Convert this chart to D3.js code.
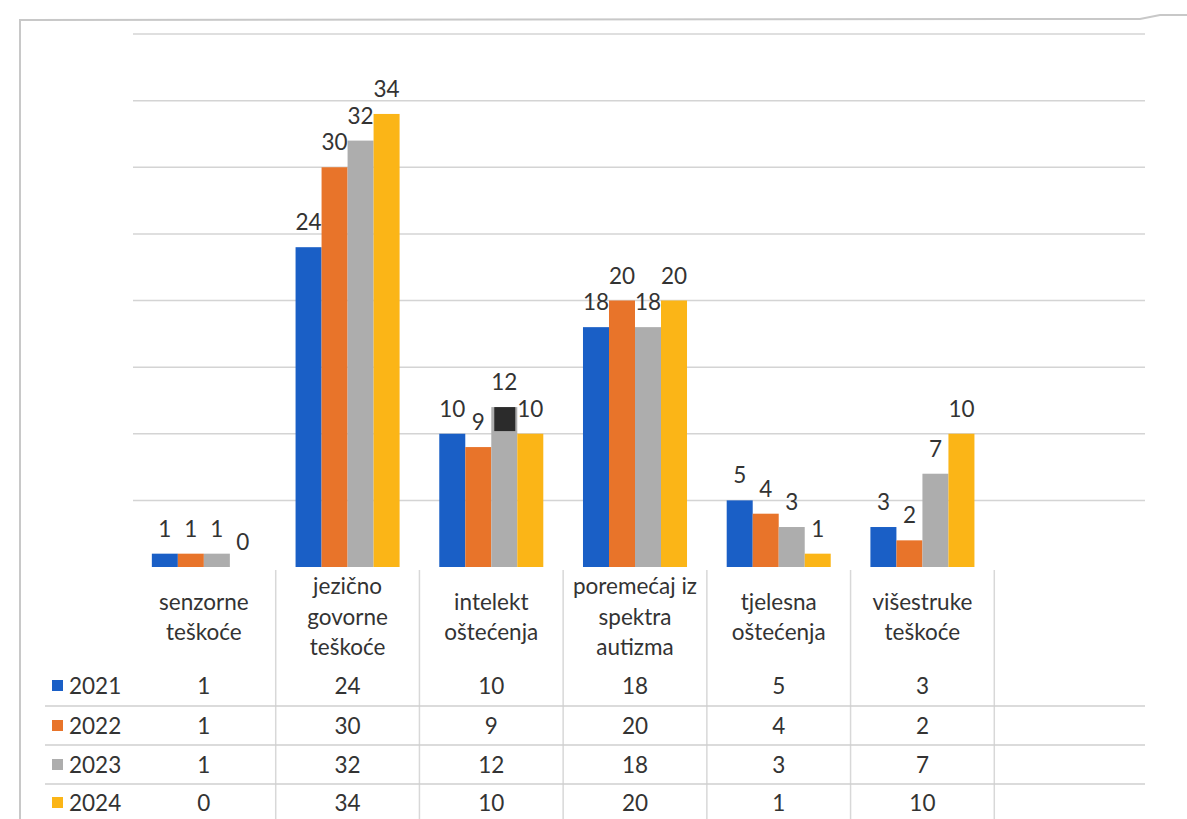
<!DOCTYPE html>
<html><head><meta charset="utf-8">
<script src="https://cdn.jsdelivr.net/npm/d3@7/dist/d3.min.js"></script>
<style>body{margin:0;background:#fff}svg{display:block}</style>
</head><body>
<svg id="c" width="1187" height="819"></svg>
<script>
const categories = [["senzorne","teškoće"],["jezično","govorne","teškoće"],["intelekt","oštećenja"],["poremećaj iz","spektra","autizma"],["tjelesna","oštećenja"],["višestruke","teškoće"]];
const years = ["2021","2022","2023","2024"];
const v2021 = [1,24,10,18,5,3];
const v2022 = [1,30,9,20,4,2];
const v2023 = [1,32,12,18,3,7];
const v2024 = [0,34,10,20,1,10];
const yTicks = [5,10,15,20,25,30,35,40];
const colors = ["#1a5fc6","#e8742a","#adadad","#fbb517"];
const series = [v2021,v2022,v2023,v2024];

const svg = d3.select("#c");
const font = "Lato, 'Open Sans', sans-serif";
const txt = "#333333";
const fs = 22.5;

// frame (scanned page border)
svg.append("path").attr("d","M20,819 L20,20 L1140,19 L1160,15 L1187,15")
  .attr("fill","none").attr("stroke","#c8c8c8").attr("stroke-width",2);

const keys = categories.map((c,i)=>"c"+i).concat(["empty"]);
const x = d3.scaleBand().domain(keys).range([132,1138]).paddingInner(0);
const xi = d3.scaleBand().domain(years).range([0,x.bandwidth()]).paddingInner(0).paddingOuter(0.763);
const y = d3.scaleLinear().domain([0,40]).range([567,34]);

// gridlines
svg.append("g").selectAll("line").data(yTicks).join("line")
  .attr("x1",133).attr("x2",1145).attr("y1",d=>y(d)).attr("y2",d=>y(d))
  .attr("stroke","#d4d4d4").attr("stroke-width",1.5);

// bars
const g = svg.append("g");
series.forEach((vals,si)=>{
  g.selectAll(".b"+si).data(vals).join("rect")
    .attr("x",(d,i)=>x(keys[i])+xi(years[si]))
    .attr("width",xi.bandwidth())
    .attr("y",d=>y(d)).attr("height",d=>y(0)-y(d))
    .attr("fill",colors[si]);
});
// scan artifact over the 2023 intelekt bar
g.append("rect").attr("x",x("c2")+xi("2023")+3).attr("width",xi.bandwidth()-5)
  .attr("y",y(v2023[2])).attr("height",y(10.2)-y(v2023[2])).attr("fill","#2b2b2b");

// data labels
series.forEach((vals,si)=>{
  g.selectAll(".l"+si).data(vals).join("text")
    .attr("x",(d,i)=>x(keys[i])+xi(years[si])+xi.bandwidth()/2)
    .attr("y",d=>y(d)-17)
    .attr("text-anchor","middle").attr("font-family",font).attr("font-size",fs)
    .attr("fill",txt).text(d=>d);
});

// table vertical lines
svg.append("g").selectAll("line").data(keys.slice(1)).join("line")
  .attr("x1",d=>x(d)).attr("x2",d=>x(d)).attr("y1",570).attr("y2",819)
  .attr("stroke","#d8d8d8").attr("stroke-width",1.5);

// table row lines
const rowY = [686,726,765,803];
svg.append("g").selectAll("line").data([706,745,784]).join("line")
  .attr("x1",45).attr("x2",1145).attr("y1",d=>d).attr("y2",d=>d)
  .attr("stroke","#cfcfcf").attr("stroke-width",1.5);

// category labels
categories.forEach((lines,i)=>{
  const cx = x(keys[i])+x.bandwidth()/2;
  const lh = 30.5;
  const y0 = 617 - (lines.length-1)*lh/2;
  const t = svg.append("text").attr("text-anchor","middle").attr("font-family",font)
    .attr("font-size",fs).attr("fill",txt);
  lines.forEach((s,j)=>t.append("tspan").attr("x",cx).attr("y",y0+j*lh).attr("dy","0.35em").text(s));
});

// table rows
series.forEach((vals,si)=>{
  svg.append("rect").attr("x",52).attr("y",rowY[si]-6).attr("width",11).attr("height",11).attr("fill",colors[si]);
  svg.append("text").attr("x",69).attr("y",rowY[si]).attr("dy","0.35em")
    .attr("font-family",font).attr("font-size",fs).attr("fill",txt).text(years[si]);
  svg.append("g").selectAll("text").data(vals).join("text")
    .attr("x",(d,i)=>x(keys[i])+x.bandwidth()/2).attr("y",rowY[si]).attr("dy","0.35em")
    .attr("text-anchor","middle").attr("font-family",font).attr("font-size",fs)
    .attr("fill",txt).text(d=>d);
});
</script>
</body></html>
